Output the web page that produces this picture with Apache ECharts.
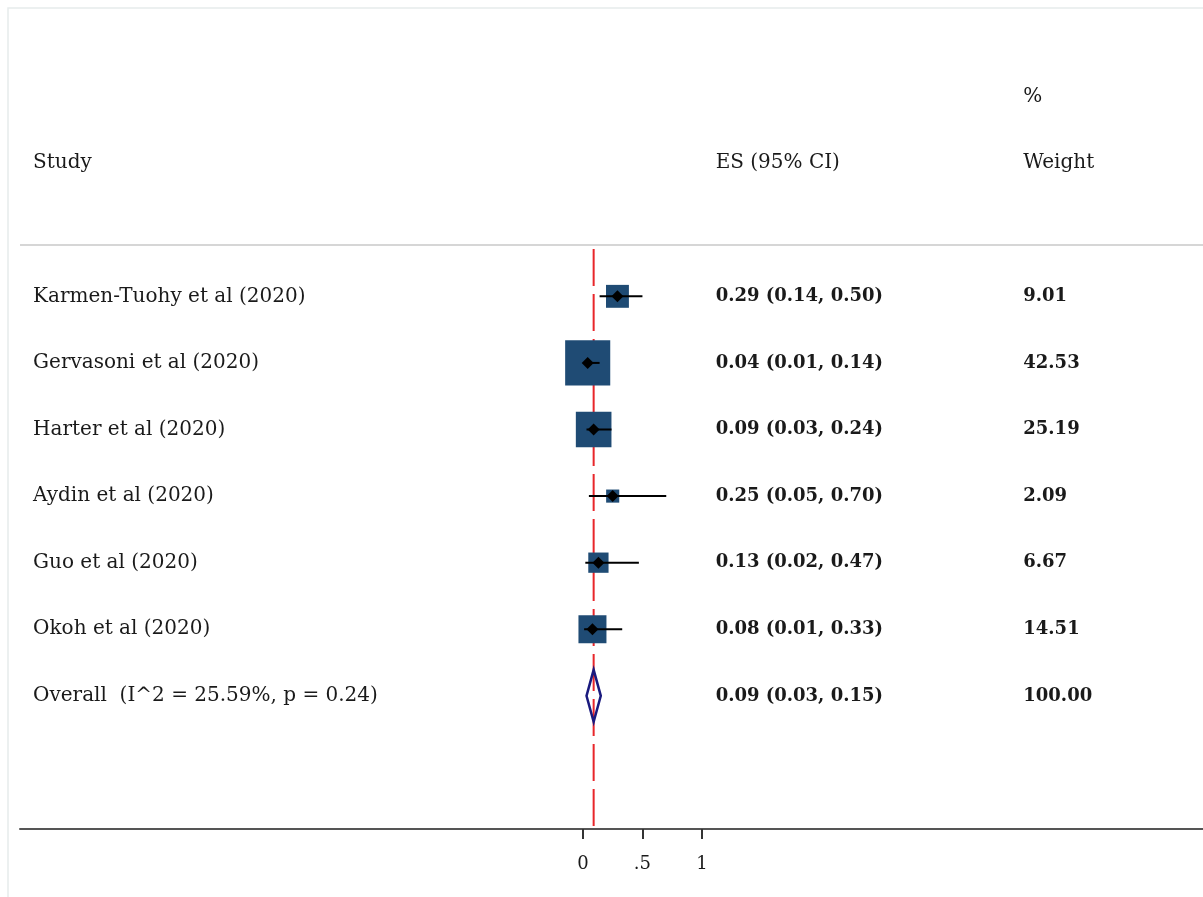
<!DOCTYPE html>
<html>
<head>
<meta charset="utf-8">
<script src="https://cdn.jsdelivr.net/npm/echarts@6/dist/echarts.min.js"></script>
<style>
html, body { margin: 0; padding: 0; background: #fff; }
#main { width: 1203px; height: 897px; }
</style>
</head>
<body>
<div id="main"></div>
<script>
// forest plot data
var studies = ['Karmen-Tuohy et al (2020)', 'Gervasoni et al (2020)', 'Harter et al (2020)',
  'Aydin et al (2020)', 'Guo et al (2020)', 'Okoh et al (2020)'];
var es = [0.29, 0.04, 0.09, 0.25, 0.13, 0.08];
var ciLow = [0.14, 0.01, 0.03, 0.05, 0.02, 0.01];
var ciHigh = [0.50, 0.14, 0.24, 0.70, 0.47, 0.33];
var weights = [9.01, 42.53, 25.19, 2.09, 6.67, 14.51];
var overallLabel = 'Overall  (I^2 = 25.59%, p = 0.24)';
var overall = [0.09, 0.03, 0.15, 100.00];
var xTicks = [0, 0.5, 1];

var FONT = 'DejaVu Serif';
var TXT = '#1a1a1a';

// column positions (in x data units) and header rows
var colStudy = -4.62, colES = 1.115, colW = 3.7;
var lineRow = -0.77, axisBottom = 8;
var xMin = -4.73, xMax = 5.21;

var chart = echarts.init(document.getElementById('main'));

var studyRows = studies.map(function (s, i) { return [colStudy, i, s]; });
studyRows.push([colStudy, studies.length, overallLabel]);
var esRows = es.map(function (v, i) {
  return [colES, i, v.toFixed(2) + ' (' + ciLow[i].toFixed(2) + ', ' + ciHigh[i].toFixed(2) + ')'];
});
esRows.push([colES, studies.length, overall[0].toFixed(2) + ' (' + overall[1].toFixed(2) + ', ' + overall[2].toFixed(2) + ')']);
var wRows = weights.map(function (w, i) { return [colW, i, w.toFixed(2)]; });
wRows.push([colW, studies.length, overall[3].toFixed(2)]);
var headRows = [[colStudy, -2, 'Study'], [colES, -2, 'ES (95% CI)'], [colW, -2, 'Weight'], [colW, -3, '%']];

function textSeries(rows, bold, size) {
  return {
    type: 'scatter',
    data: rows,
    symbolSize: 0,
    silent: true,
    z: 10,
    itemStyle: { opacity: 1 },
    label: {
      show: true,
      position: 'right',
      distance: 0,
      formatter: function (p) { return p.data[2]; },
      fontFamily: FONT,
      fontWeight: bold ? 'bold' : 'normal',
      fontSize: size,
      color: TXT
    }
  };
}

var studyData = es.map(function (v, i) { return [v, i, ciLow[i], ciHigh[i], weights[i]]; });

var option = {
  animation: false,
  graphic: [{
    type: 'rect',
    shape: { x: 8, y: 8, width: 1400, height: 1000 },
    style: { fill: 'none', stroke: '#e6ecec', lineWidth: 1.5 },
    silent: true
  }],
  grid: { left: 20, right: 0, top: 30, bottom: 68 },
  xAxis: {
    type: 'value',
    min: xMin,
    max: xMax,
    splitLine: { show: false },
    axisLine: { onZero: false, lineStyle: { color: '#555', width: 2 } },
    axisTick: { customValues: xTicks, length: 10, lineStyle: { color: '#333', width: 2 } },
    axisLabel: {
      customValues: xTicks,
      margin: 26,
      fontFamily: FONT,
      fontSize: 18,
      color: TXT,
      formatter: function (v) { return v === 0.5 ? '.5' : String(v); }
    }
  },
  yAxis: {
    type: 'value',
    inverse: true,
    min: -4,
    max: axisBottom,
    show: false
  },
  series: [
    {
      // header separator + overall effect reference line
      type: 'custom',
      z: 1,
      silent: true,
      data: [[overall[0], lineRow, axisBottom]],
      renderItem: function (params, api) {
        var top = api.coord([api.value(0), api.value(1)]);
        var bot = api.coord([api.value(0), api.value(2)]);
        var left = api.coord([xMin, api.value(1)]);
        var right = api.coord([xMax, api.value(1)]);
        return {
          type: 'group',
          children: [
            { type: 'line', shape: { x1: left[0], y1: left[1], x2: right[0], y2: right[1] },
              style: { stroke: '#d6d6d6', lineWidth: 2 } },
            { type: 'line', shape: { x1: top[0], y1: top[1] + 4, x2: bot[0], y2: bot[1] },
              style: { stroke: '#e8262a', lineWidth: 2, lineDash: [37, 8] } }
          ]
        };
      }
    },
    {
      type: 'custom',
      z: 10,
      data: studyData,
      renderItem: function (params, api) {
        var c = api.coord([api.value(0), api.value(1)]);
        var l = api.coord([api.value(2), api.value(1)]);
        var h = api.coord([api.value(3), api.value(1)]);
        var side = 4 + 6.3 * Math.sqrt(api.value(4));
        var d = 6;
        return {
          type: 'group',
          children: [
            { type: 'rect', shape: { x: c[0] - side / 2, y: c[1] - side / 2, width: side, height: side },
              style: { fill: '#1f4b74', opacity: 1 } },
            { type: 'line', shape: { x1: l[0], y1: l[1], x2: h[0], y2: h[1] },
              style: { stroke: '#000', lineWidth: 2 } },
            { type: 'polygon', shape: { points: [[c[0] - d, c[1]], [c[0], c[1] - d], [c[0] + d, c[1]], [c[0], c[1] + d]] },
              style: { fill: '#000' } }
          ]
        };
      }
    },
    {
      type: 'custom',
      z: 10,
      data: [[overall[0], studies.length, overall[1], overall[2]]],
      renderItem: function (params, api) {
        var c = api.coord([api.value(0), api.value(1)]);
        var l = api.coord([api.value(2), api.value(1)]);
        var h = api.coord([api.value(3), api.value(1)]);
        var hh = 26;
        return {
          type: 'polygon',
          shape: { points: [[l[0], c[1]], [c[0], c[1] - hh], [h[0], c[1]], [c[0], c[1] + hh]] },
          style: { fill: 'none', stroke: '#1a1a7e', lineWidth: 2.5 }
        };
      }
    },
    textSeries(studyRows, false, 20),
    textSeries(esRows, true, 18),
    textSeries(wRows, true, 18),
    textSeries(headRows, false, 20)
  ]
};

chart.setOption(option);
</script>
</body>
</html>
